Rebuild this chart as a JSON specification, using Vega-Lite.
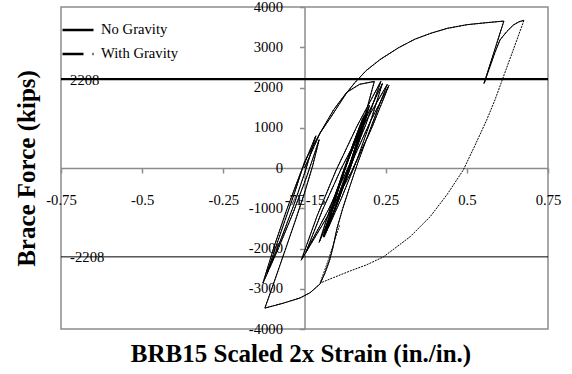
{
  "$schema": "https://vega.github.io/schema/vega-lite/v6.json",
  "width": 487,
  "height": 322,
  "autosize": "none",
  "padding": {"left": 61, "top": 7, "right": 24, "bottom": 45},
  "background": "white",
  "config": {
    "font": "Liberation Serif",
    "view": {"stroke": "#8c8c8c", "strokeWidth": 1.5},
    "axis": {"labelFont": "Liberation Serif", "titleFont": "Liberation Serif"},
    "legend": {"labelFont": "Liberation Serif"},
    "text": {"font": "Liberation Serif"}
  },
  "datasets": {
    "brb15": [
      {"i":1,"s":0,"f":0},{"i":2,"s":0.048,"f":870},{"i":3,"s":0.09,"f":1450},{"i":4,"s":0.13,"f":1880},
      {"i":5,"s":0.17,"f":2080},{"i":6,"s":0.215,"f":2150},{"i":7,"s":0.1815,"f":1150},{"i":8,"s":0.142,"f":150},
      {"i":9,"s":0.0965,"f":-850},{"i":10,"s":0.045,"f":-1850},{"i":11,"s":0.085,"f":-862},{"i":12,"s":0.1305,"f":125},
      {"i":13,"s":0.182,"f":1112},{"i":14,"s":0.24,"f":2100},{"i":15,"s":0.203,"f":1145},{"i":16,"s":0.161,"f":190},
      {"i":17,"s":0.113,"f":-765},{"i":18,"s":0.06,"f":-1720},{"i":19,"s":0.088,"f":-928},{"i":20,"s":0.1195,"f":-135},
      {"i":21,"s":0.155,"f":658},{"i":22,"s":0.195,"f":1450},{"i":23,"s":0.1675,"f":688},{"i":24,"s":0.137,"f":-75},
      {"i":25,"s":0.1025,"f":-838},{"i":26,"s":0.065,"f":-1600},{"i":27,"s":0.0913,"f":-855},{"i":28,"s":0.1205,"f":-110},
      {"i":29,"s":0.1538,"f":635},{"i":30,"s":0.19,"f":1380},{"i":31,"s":0.164,"f":645},{"i":32,"s":0.135,"f":-90},
      {"i":33,"s":0.103,"f":-825},{"i":34,"s":0.068,"f":-1560},{"i":35,"s":0.095,"f":-783},{"i":36,"s":0.126,"f":-5},
      {"i":37,"s":0.161,"f":773},{"i":38,"s":0.2,"f":1550},{"i":39,"s":0.1715,"f":738},{"i":40,"s":0.138,"f":-75},
      {"i":41,"s":0.1005,"f":-888},{"i":42,"s":0.058,"f":-1700},{"i":43,"s":0.0848,"f":-945},{"i":44,"s":0.1145,"f":-190},
      {"i":45,"s":0.1483,"f":565},{"i":46,"s":0.185,"f":1320},{"i":47,"s":0.1608,"f":615},{"i":48,"s":0.1335,"f":-90},
      {"i":49,"s":0.1033,"f":-795},{"i":50,"s":0.07,"f":-1500},{"i":51,"s":0.093,"f":-812},{"i":52,"s":0.119,"f":-125},
      {"i":53,"s":0.148,"f":562},{"i":54,"s":0.18,"f":1250},{"i":55,"s":0.1583,"f":575},{"i":56,"s":0.1335,"f":-100},
      {"i":57,"s":0.1058,"f":-775},{"i":58,"s":0.075,"f":-1450},{"i":59,"s":0.1113,"f":-575},{"i":60,"s":0.1545,"f":300},
      {"i":61,"s":0.2038,"f":1175},{"i":62,"s":0.26,"f":2050},{"i":63,"s":0.2055,"f":965},{"i":64,"s":0.143,"f":-120},
      {"i":65,"s":0.0705,"f":-1205},{"i":66,"s":-0.01,"f":-2290},{"i":67,"s":0.0393,"f":-1180},{"i":68,"s":0.0965,"f":-70},
      {"i":69,"s":0.1618,"f":1040},{"i":70,"s":0.235,"f":2150},{"i":71,"s":0.1895,"f":1093},{"i":72,"s":0.136,"f":35},
      {"i":73,"s":0.0745,"f":-1023},{"i":74,"s":0.005,"f":-2080},{"i":75,"s":0.0555,"f":-1040},{"i":76,"s":0.114,"f":0},
      {"i":77,"s":0.1805,"f":1040},{"i":78,"s":0.255,"f":2080},{"i":79,"s":0.225,"f":1450},{"i":80,"s":0.195,"f":800},
      {"i":81,"s":0.165,"f":150},{"i":82,"s":0.14,"f":-450},{"i":83,"s":0.118,"f":-1000},{"i":84,"s":0.1,"f":-1500},
      {"i":85,"s":0.088,"f":-1960},{"i":86,"s":0.077,"f":-2300},{"i":87,"s":0.063,"f":-2610},{"i":88,"s":0.048,"f":-2880},
      {"i":89,"s":0.017,"f":-3100},{"i":90,"s":-0.014,"f":-3230},{"i":91,"s":-0.066,"f":-3360},{"i":92,"s":-0.122,"f":-3480},
      {"i":93,"s":-0.09,"f":-2750},{"i":94,"s":-0.06,"f":-2050},{"i":95,"s":-0.03,"f":-1350},{"i":96,"s":0,"f":-620},
      {"i":97,"s":0.025,"f":50},{"i":98,"s":0.045,"f":700},{"i":99,"s":0.0078,"f":-190},{"i":100,"s":-0.0335,"f":-1080},
      {"i":101,"s":-0.079,"f":-1970},{"i":102,"s":-0.128,"f":-2860},{"i":103,"s":-0.0933,"f":-1945},{"i":104,"s":-0.0545,"f":-1030},
      {"i":105,"s":-0.0118,"f":-115},{"i":106,"s":0.035,"f":800},{"i":107,"s":0.0035,"f":-50},{"i":108,"s":-0.032,"f":-900},
      {"i":109,"s":-0.0715,"f":-1750},{"i":110,"s":-0.115,"f":-2600},{"i":111,"s":-0.09,"f":-2000},{"i":112,"s":-0.06,"f":-1300},
      {"i":113,"s":-0.03,"f":-600},{"i":114,"s":0,"f":150},{"i":115,"s":0.048,"f":870},{"i":116,"s":0.08,"f":1250},
      {"i":117,"s":0.109,"f":1610},{"i":118,"s":0.13,"f":1870},{"i":119,"s":0.155,"f":2120},{"i":120,"s":0.19,"f":2420},
      {"i":121,"s":0.232,"f":2690},{"i":122,"s":0.29,"f":2990},{"i":123,"s":0.34,"f":3200},{"i":124,"s":0.39,"f":3350},
      {"i":125,"s":0.44,"f":3470},{"i":126,"s":0.5,"f":3560},{"i":127,"s":0.56,"f":3610},{"i":128,"s":0.614,"f":3650},
      {"i":129,"s":0.553,"f":2100},{"i":130,"s":0.587,"f":2880},{"i":131,"s":0.602,"f":3180},{"i":132,"s":0.623,"f":3390},
      {"i":133,"s":0.643,"f":3550},{"i":134,"s":0.66,"f":3630},{"i":135,"s":0.676,"f":3670},
      {"i":136,"s":0.645,"f":2980},{"i":137,"s":0.615,"f":2320},{"i":138,"s":0.587,"f":1700},{"i":139,"s":0.561,"f":1190},
      {"i":140,"s":0.525,"f":560},{"i":141,"s":0.489,"f":-50},{"i":142,"s":0.44,"f":-650},{"i":143,"s":0.387,"f":-1210},
      {"i":144,"s":0.325,"f":-1710},{"i":145,"s":0.243,"f":-2210},{"i":146,"s":0.19,"f":-2410},{"i":147,"s":0.14,"f":-2560},
      {"i":148,"s":0.09,"f":-2720},{"i":149,"s":0.048,"f":-2860},{"i":150,"s":0.075,"f":-2250},{"i":151,"s":0.108,"f":-1420}
    ],
    "limits": [{"limit": 2208}, {"limit": -2208}]
  },
  "layer": [
    {
      "data": {"name": "brb15"},
      "mark": {"type": "line", "strokeWidth": 1, "strokeDash": [2, 1]},
      "encoding": {
        "x": {
          "field": "s", "type": "quantitative",
          "scale": {"domain": [-0.75, 0.75], "nice": false, "zero": false},
          "axis": {
            "title": "BRB15 Scaled 2x Strain (in./in.)",
            "orient": "bottom", "offset": -161,
            "values": [-0.75, -0.5, -0.25, 0, 0.25, 0.5, 0.75],
            "labelExpr": "datum.value === 0 ? '-7E-15' : toString(datum.value)",
            "grid": false,
            "domainColor": "#8c8c8c", "domainWidth": 1.5,
            "tickColor": "#8c8c8c", "tickWidth": 1.5, "tickSize": 5,
            "labelFontSize": 14.67, "labelColor": "black", "labelPadding": 19,
            "labelFlush": false, "labelOverlap": false, "labelBound": false,
            "titleFontSize": 25, "titleFontWeight": "bold", "titleColor": "black",
            "titleX": 239.5, "titleY": 185, "titleAlign": "center", "titleBaseline": "middle"
          }
        },
        "y": {
          "field": "f", "type": "quantitative",
          "scale": {"domain": [-4000, 4000], "nice": false, "zero": false},
          "axis": {
            "title": "Brace Force (kips)",
            "orient": "left", "offset": -243.5,
            "values": [-4000, -3000, -2000, -1000, 0, 1000, 2000, 3000, 4000],
            "labelExpr": "toString(datum.value)",
            "grid": false,
            "domainColor": "#8c8c8c", "domainWidth": 1.5,
            "tickColor": "#8c8c8c", "tickWidth": 1.5, "tickSize": 5,
            "labelFontSize": 14.67, "labelColor": "black", "labelPadding": 17,
            "labelFlush": false, "labelOverlap": false, "labelBound": false,
            "titleFontSize": 25, "titleFontWeight": "bold", "titleColor": "black",
            "titleAngle": -90, "titleX": -278.5, "titleY": 161, "titleAlign": "center", "titleBaseline": "middle"
          }
        },
        "order": {"field": "i", "type": "quantitative"},
        "color": {
          "datum": "With Gravity", "type": "nominal",
          "scale": {"domain": ["No Gravity", "With Gravity"], "range": ["black", "black"]},
          "legend": {
            "title": null, "orient": "none", "legendX": 0, "legendY": 6,
            "padding": 0, "symbolType": "stroke", "symbolSize": 961, "symbolStrokeWidth": 2.3,
            "labelFont": "Liberation Serif", "labelFontSize": 14.67, "labelColor": "black",
            "labelOffset": 6, "rowPadding": -6,
            "encode": {
              "symbols": {
                "update": {
                  "strokeDash": {"signal": "datum.value === 'With Gravity' ? [21, 9, 2, 40] : [1, 0]"}
                }
              }
            }
          }
        }
      }
    },
    {
      "data": {"name": "brb15"},
      "transform": [{"filter": "datum.i <= 135"}],
      "mark": {"type": "line", "strokeWidth": 1},
      "encoding": {
        "x": {"field": "s", "type": "quantitative"},
        "y": {"field": "f", "type": "quantitative"},
        "order": {"field": "i", "type": "quantitative"},
        "color": {"datum": "No Gravity", "type": "nominal"}
      }
    },
    {
      "data": {"name": "limits"},
      "mark": {"type": "rule", "color": "black"},
      "encoding": {
        "y": {"field": "limit", "type": "quantitative"},
        "strokeWidth": {"condition": {"test": "datum.limit > 0", "value": 2.3}, "value": 1}
      }
    },
    {
      "data": {"name": "limits"},
      "mark": {"type": "text", "align": "left", "baseline": "middle", "dy": 1.5, "fontSize": 14.67, "color": "black", "font": "Liberation Serif"},
      "encoding": {
        "x": {"datum": -0.722},
        "y": {"field": "limit", "type": "quantitative"},
        "text": {"field": "limit", "type": "nominal"}
      }
    }
  ]
}
